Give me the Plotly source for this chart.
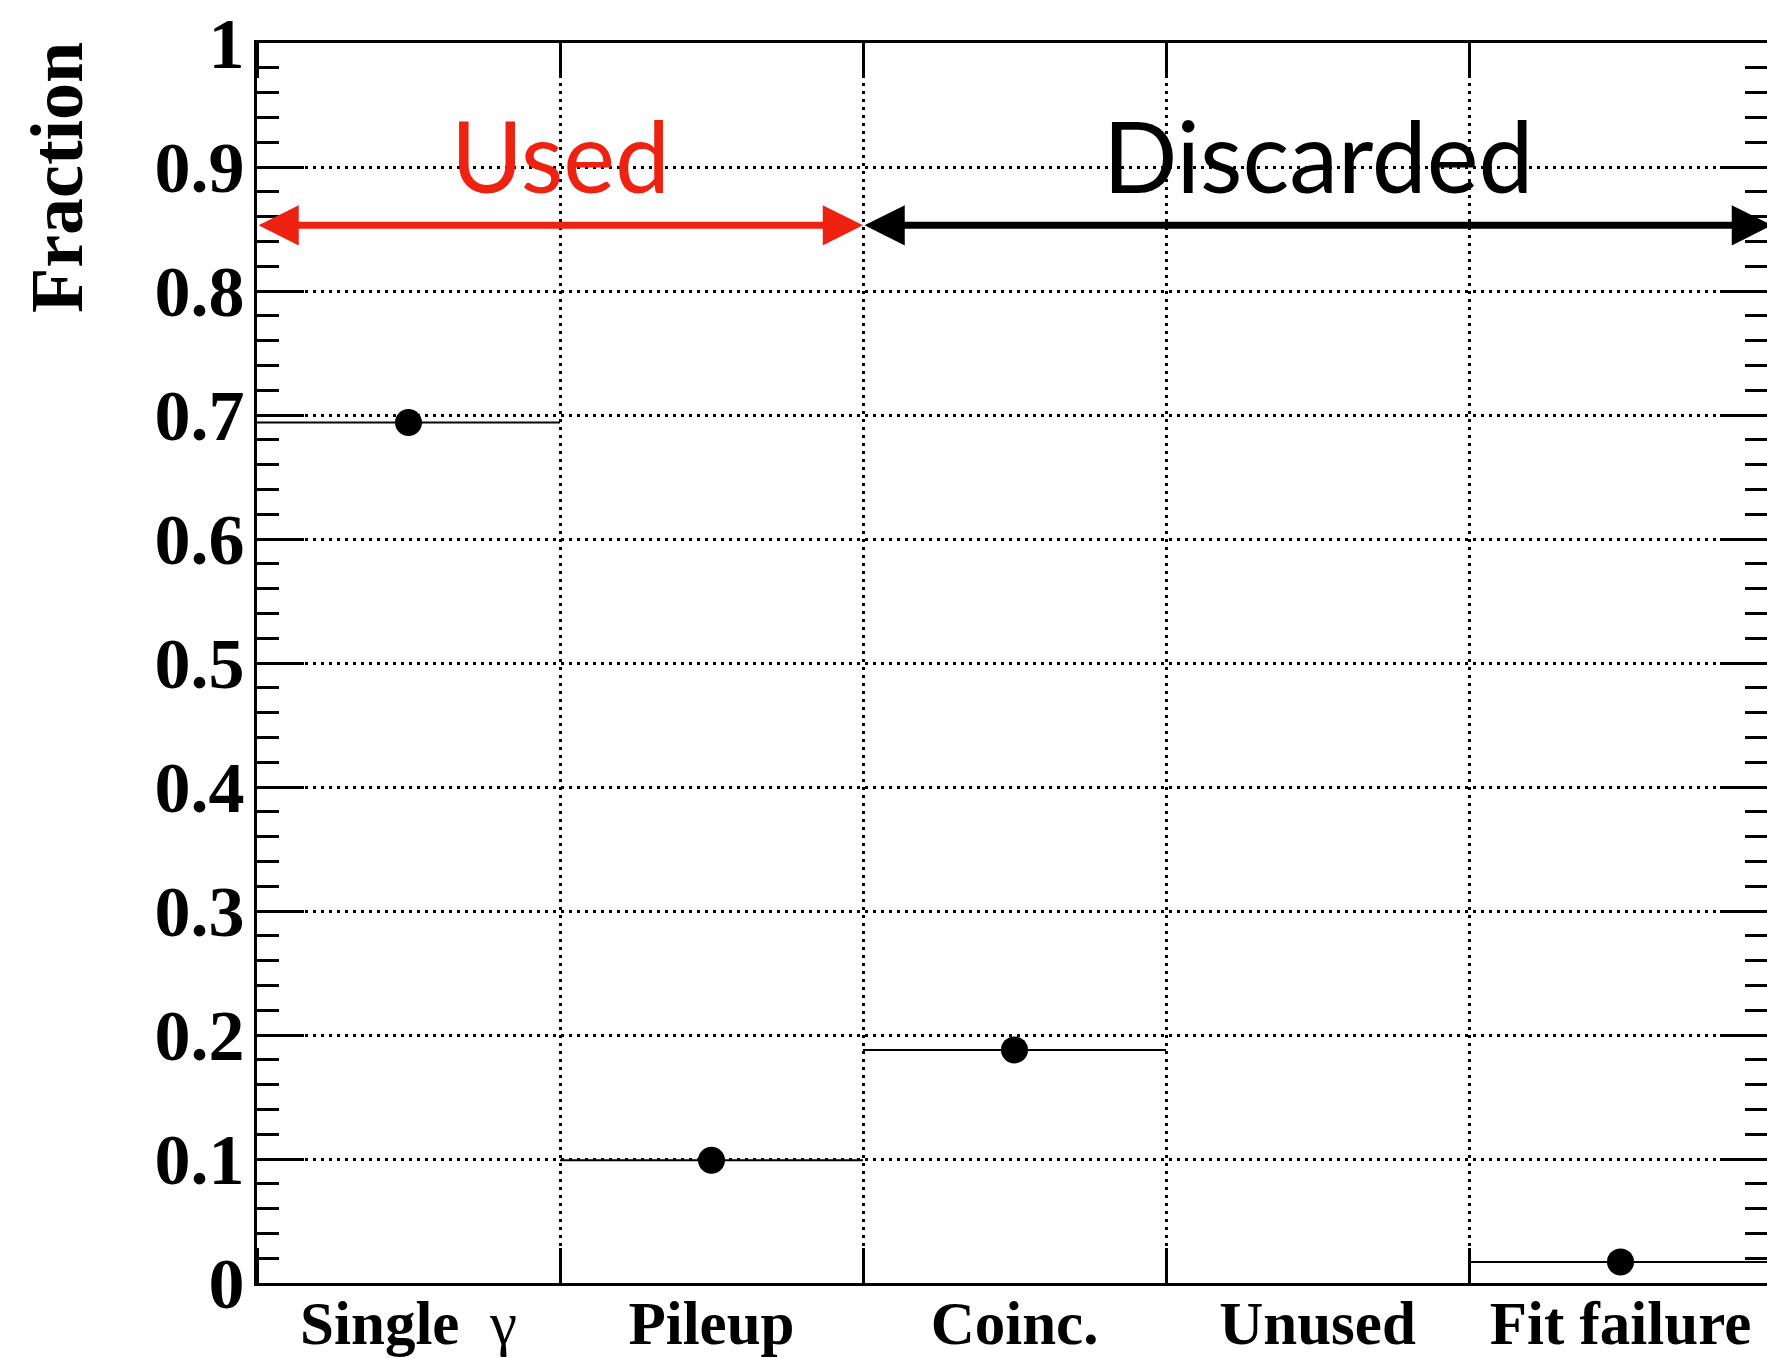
import plotly.graph_objects as go

# ---- data ----
categories = ["Single  <span style='font-weight:normal'>γ</span>", "Pileup", "Coinc.", "Unused", "Fit failure"]
fractions = [0.694, 0.099, 0.188, None, 0.017]
bin_centers = [0.5, 1.5, 2.5, 3.5, 4.5]
bin_half_width = [0.5, 0.5, 0.5, 0.5, 0.5]
bin_edges = [0, 1, 2, 3, 4, 5]
y_ticks = [0, 0.1, 0.2, 0.3, 0.4, 0.5, 0.6, 0.7, 0.8, 0.9, 1]
y_tick_labels = ["0", "0.1", "0.2", "0.3", "0.4", "0.5", "0.6", "0.7", "0.8", "0.9", "1"]
used_span = [0, 2]
discarded_span = [2, 5]
arrow_level = 0.853
label_level = 0.91

W, H = 1767, 1358
ml, mt, mb, mr = 257, 43, 75, 0
RED = "#EE2211"

fig = go.Figure()

fig.add_trace(go.Scatter(
    x=bin_centers, y=fractions, mode="markers",
    marker=dict(size=27, color="black"),
    error_x=dict(type="data", array=bin_half_width, symmetric=True,
                 thickness=2, width=0, color="black"),
    showlegend=False, hoverinfo="skip", cliponaxis=False,
))
# invisible companion on right axis to keep mirrored ticks
fig.add_trace(go.Scatter(
    x=bin_centers, y=fractions, mode="markers", yaxis="y2",
    marker=dict(size=1, color="rgba(0,0,0,0)"),
    showlegend=False, hoverinfo="skip",
))

serif = "Liberation Serif"
grid_dash = "3px,5px"
fig.update_layout(
    width=W, height=H,
    margin=dict(l=ml, r=mr, t=mt, b=mb, pad=0),
    paper_bgcolor="white", plot_bgcolor="white",
    xaxis=dict(
        range=[0, (W - ml - mr) / 303.0], automargin=False,
        tickmode="array", tickvals=bin_centers, ticktext=categories,
        ticks="", showgrid=False, zeroline=False,
        tickfont=dict(family=serif, size=61, color="black", weight="bold"),
        showline=True, linecolor="black", linewidth=3, mirror="ticks",
        minor=dict(tickmode="array", tickvals=bin_edges, ticks="inside", ticklen=35,
                   tickwidth=3, tickcolor="black", showgrid=True,
                   gridcolor="black", gridwidth=2.5, griddash=grid_dash),
        ticklabelstandoff=-15,
    ),
    yaxis=dict(
        range=[0, 1], automargin=False,
        tickmode="array", tickvals=y_ticks, ticktext=y_tick_labels,
        ticks="inside", ticklen=47, tickwidth=3, tickcolor="black",
        showgrid=True, gridcolor="black", gridwidth=2.5, griddash=grid_dash,
        zeroline=False,
        tickfont=dict(family=serif, size=72, color="black", weight="bold"),
        showline=True, linecolor="black", linewidth=3, mirror=False,
        minor=dict(dtick=0.02, tick0=0, ticks="inside", ticklen=22,
                   tickwidth=3, tickcolor="black", showgrid=False),
        ticklabelstandoff=-5,
    ),
    yaxis2=dict(
        range=[0, 1], overlaying="y", side="right", anchor="x", automargin=False,
        tickmode="array", tickvals=y_ticks, showticklabels=False,
        ticks="inside", ticklen=47, tickwidth=3, tickcolor="black",
        showgrid=False, zeroline=False, showline=False,
        minor=dict(dtick=0.02, tick0=0, ticks="inside", ticklen=22,
                   tickwidth=3, tickcolor="black", showgrid=False),
    ),
)

# y-axis title
fig.add_annotation(
    text="<b>Fraction</b>", xref="paper", yref="paper",
    x=(57 - ml) / (W - ml - mr), y=(H - mb - 177) / (H - mt - mb),
    xanchor="center", yanchor="middle", textangle=-90, showarrow=False,
    font=dict(family=serif, size=74, color="black"),
)

# arrows
fig.add_annotation(
    x=used_span[1], y=arrow_level, ax=used_span[0], ay=arrow_level,
    xref="x", yref="y", axref="x", ayref="y", text="",
    showarrow=True, arrowside="end+start", arrowhead=2, startarrowhead=2,
    arrowsize=1.15, startarrowsize=1.15, arrowwidth=7, arrowcolor=RED,
)
fig.add_annotation(
    x=discarded_span[1], y=arrow_level, ax=discarded_span[0], ay=arrow_level,
    xref="x", yref="y", axref="x", ayref="y", text="",
    showarrow=True, arrowside="end+start", arrowhead=2, startarrowhead=2,
    arrowsize=1.15, startarrowsize=1.15, arrowwidth=7, arrowcolor="black",
)

# labels
fig.add_annotation(
    text="Used", x=sum(used_span) / 2, y=label_level, xref="x", yref="y",
    showarrow=False, xanchor="center", yanchor="middle",
    font=dict(family="Lato", size=98, color=RED),
)
fig.add_annotation(
    text="Discarded", x=sum(discarded_span) / 2, y=label_level, xref="x", yref="y",
    showarrow=False, xanchor="center", yanchor="middle",
    font=dict(family="Lato", size=98, color="black"),
)

fig.write_html("out.html")
